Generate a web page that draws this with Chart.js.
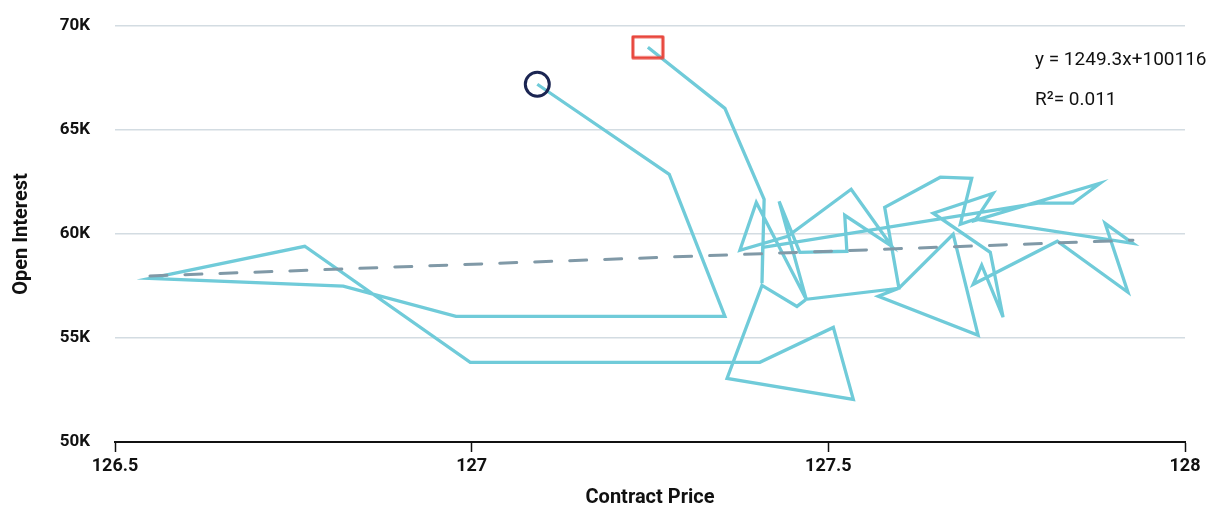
<!DOCTYPE html>
<html>
<head>
<meta charset="utf-8">
<script src="https://cdn.jsdelivr.net/npm/chart.js@4.4.1/dist/chart.umd.min.js"></script>
<style>
  html, body { margin: 0; padding: 0; background: #ffffff; }
  #wrap { width: 1217px; height: 508px; position: relative; }
</style>
</head>
<body>
<div id="wrap"><canvas id="c" width="1217" height="508"></canvas></div>
<script>
// ---- Data ----
const contractPrice = [
  127.092, 127.277, 127.355, 126.978, 126.820, 126.549, 126.766, 126.998, 127.404, 127.507,
  127.535, 127.358, 127.407, 127.456, 127.469, 127.399, 127.376, 127.443, 127.532, 127.589,
  127.523, 127.526, 127.460, 127.431, 127.469, 127.599, 127.675, 127.710, 127.570, 127.599,
  127.579, 127.657, 127.701, 127.685, 127.706, 127.927, 127.888, 127.920, 127.821, 127.703,
  127.715, 127.745, 127.727, 127.647, 127.731, 127.706, 127.881, 127.843, 127.794, 127.408,
  127.407, 127.410, 127.355, 127.247
];
const openInterest = [
  67200, 62870, 56040, 56040, 57490, 57870, 59410, 53830, 53830, 55510,
  52050, 53060, 57530, 56520, 56860, 61520, 59220, 59890, 62150, 59410,
  60900, 59170, 59120, 61570, 56860, 57390, 59990, 55130, 57010, 57390,
  61280, 62730, 62680, 60470, 60710, 59550, 60510, 57200, 59650, 57580,
  58500, 56000, 59120, 61000, 61960, 60660, 62440, 61480, 61480, 59360,
  57630, 61670, 66040, 68980
];
const yTicks = [50000, 55000, 60000, 65000, 70000];
const xTicks = [126.5, 127, 127.5, 128];
const trendSlope = 1249.3;
const trendIntercept = -100116;
const equationLabel = "y = 1249.3x+100116";
const r2Label = "R\u00B2= 0.011";

// ---- Build datasets ----
const pathPoints = contractPrice.map((x, i) => ({ x: x, y: openInterest[i] }));
const xMin = Math.min(...contractPrice), xMax = Math.max(...contractPrice);
const trendPoints = [xMin, xMax].map(x => ({ x: x, y: trendSlope * x + trendIntercept }));
const last = pathPoints.length - 1;

// red rectangle marker
const rectMarker = document.createElement('canvas');
rectMarker.width = 34; rectMarker.height = 25;
(function () {
  const g = rectMarker.getContext('2d');
  g.strokeStyle = '#e8463c';
  g.lineWidth = 3;
  g.lineJoin = 'round';
  g.strokeRect(2, 2, 30, 21);
})();

const FONT = "Roboto, 'Liberation Sans', sans-serif";

const equationPlugin = {
  id: 'equation',
  afterDraw(chart) {
    const ctx = chart.ctx;
    const a = chart.chartArea;
    ctx.save();
    ctx.fillStyle = '#111111';
    ctx.font = "19px " + FONT;
    ctx.textAlign = 'left';
    ctx.textBaseline = 'middle';
    const x0 = a.right - 150;
    ctx.fillText(equationLabel, x0, a.top + 34);
    ctx.fillText(r2Label, x0, a.top + 74);
    ctx.restore();
  }
};

new Chart(document.getElementById('c'), {
  type: 'scatter',
  data: {
    datasets: [
      {
        label: 'Trend',
        data: trendPoints,
        showLine: true,
        borderColor: '#8099a7',
        borderWidth: 3,
        borderDash: [17, 18],
        borderCapStyle: 'round',
        pointRadius: 0,
        order: 1
      },
      {
        label: 'Start',
        data: [pathPoints[0]],
        pointStyle: 'circle',
        pointRadius: 12,
        pointBorderWidth: 3,
        pointBorderColor: '#1b2552',
        pointBackgroundColor: 'rgba(0,0,0,0)',
        order: 0
      },
      {
        label: 'End',
        data: [pathPoints[last]],
        pointStyle: rectMarker,
        pointRadius: 14,
        order: 0
      },
      {
        label: 'Open Interest',
        data: pathPoints,
        showLine: true,
        borderColor: '#70cbd9',
        borderWidth: 3.3,
        borderJoinStyle: 'miter',
        tension: 0,
        pointRadius: 0,
        order: 2
      }
    ]
  },
  options: {
    responsive: false,
    animation: false,
    layout: { padding: { left: 0, right: 32, top: 26, bottom: 0 } },
    plugins: {
      legend: { display: false },
      tooltip: { enabled: false }
    },
    scales: {
      x: {
        type: 'linear',
        min: 126.5,
        max: 128,
        afterBuildTicks: s => { s.ticks = xTicks.map(v => ({ value: v })); },
        afterFit: s => { s.height = 66; },
        ticks: {
          color: '#111111',
          font: { family: FONT, size: 18, weight: 'bold' },
          padding: 4,
          maxRotation: 0,
          callback: v => String(v)
        },
        grid: {
          drawOnChartArea: false,
          drawTicks: true,
          tickLength: 10,
          tickWidth: 1.5,
          tickColor: '#111111'
        },
        border: { display: true, color: '#111111', width: 2 },
        title: {
          display: true,
          text: 'Contract Price',
          color: '#111111',
          font: { family: FONT, size: 20, weight: 'bold' },
          padding: { top: 0, bottom: -2 }
        }
      },
      y: {
        type: 'linear',
        min: 50000,
        max: 70000,
        afterBuildTicks: s => { s.ticks = yTicks.map(v => ({ value: v })); },
        afterFit: s => { s.width = 115; s.paddingTop = 0; s.paddingBottom = 0; },
        ticks: {
          color: '#111111',
          font: { family: FONT, size: 17, weight: 'bold' },
          padding: 25,
          callback: v => (v / 1000) + 'K'
        },
        grid: {
          color: ctx => ctx.tick && ctx.tick.value === 50000 ? 'rgba(0,0,0,0)' : '#d3dce2',
          lineWidth: 1.5,
          drawTicks: false
        },
        border: { display: false },
        title: {
          display: true,
          text: 'Open Interest',
          color: '#111111',
          font: { family: FONT, size: 20, weight: 'bold' },
          padding: { top: 10, bottom: 0 }
        }
      }
    }
  },
  plugins: [equationPlugin]
});
</script>
</body>
</html>
